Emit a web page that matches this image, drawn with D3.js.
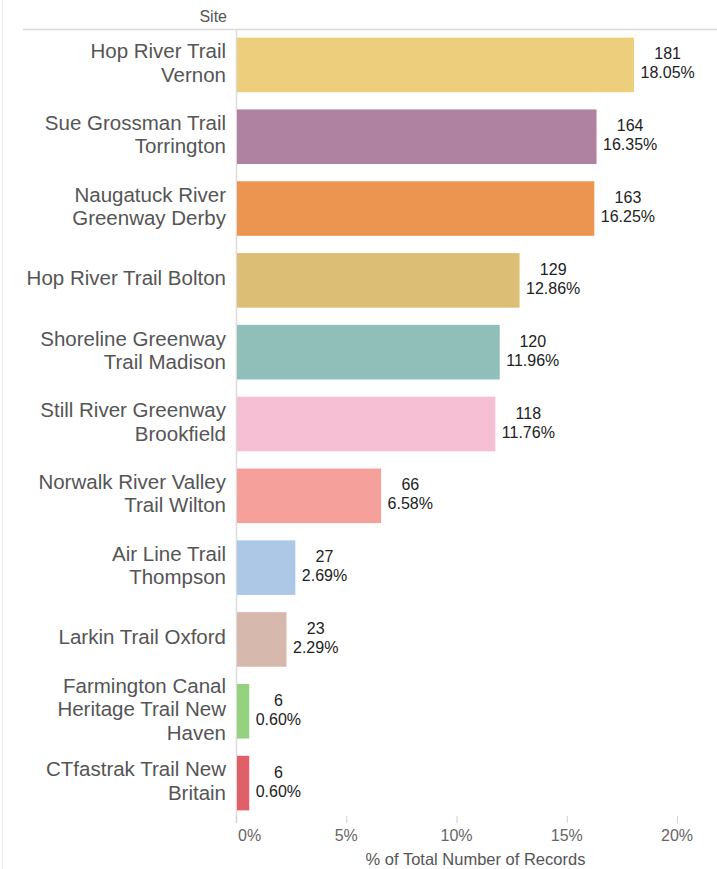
<!DOCTYPE html>
<html><head><meta charset="utf-8">
<script src="https://cdn.jsdelivr.net/npm/d3@7/dist/d3.min.js"></script>
<style>body{margin:0;background:#fff}svg{display:block}text{font-family:"Liberation Sans",Arial,Helvetica,sans-serif}</style>
</head><body>
<script>
const sites = [
  ["Hop River Trail","Vernon"],
  ["Sue Grossman Trail","Torrington"],
  ["Naugatuck River","Greenway Derby"],
  ["Hop River Trail Bolton"],
  ["Shoreline Greenway","Trail Madison"],
  ["Still River Greenway","Brookfield"],
  ["Norwalk River Valley","Trail Wilton"],
  ["Air Line Trail","Thompson"],
  ["Larkin Trail Oxford"],
  ["Farmington Canal","Heritage Trail New","Haven"],
  ["CTfastrak Trail New","Britain"]
];
const counts = [181,164,163,129,120,118,66,27,23,6,6];
const percents = [18.05,16.35,16.25,12.86,11.96,11.76,6.58,2.69,2.29,0.60,0.60];
const colors = ["#ecce7c","#ae82a0","#ec9550","#dcbe74","#8fbfb8","#f6bfd3","#f6a09c","#adc8e6","#d6b8ac","#95d27f","#e06069"];
const xTicks = [0,5,10,15,20];

const W=717,H=869;
const svg=d3.select("body").append("svg").attr("width",W).attr("height",H);
const x=d3.scaleLinear().domain([0,20]).range([236,677]);
const y=d3.scaleBand().domain(d3.range(sites.length)).range([29,819]).paddingInner(0.24).paddingOuter(0.12);

// borders / header
svg.append("line").attr("x1",2.5).attr("x2",2.5).attr("y1",0).attr("y2",H).attr("stroke","#ececec");
svg.append("line").attr("x1",23).attr("x2",W).attr("y1",29.5).attr("y2",29.5).attr("stroke","#d9d9d9").attr("stroke-width",1.5);
svg.append("text").attr("x",227).attr("y",21.5).attr("text-anchor","end").attr("font-size",16).attr("fill","#555").text("Site");
svg.append("line").attr("x1",236.5).attr("x2",236.5).attr("y1",29).attr("y2",823).attr("stroke","#dcdcdc").attr("stroke-width",1.5);

// bars
const g=svg.append("g");
g.selectAll("rect").data(counts).join("rect")
  .attr("x",x(0)+1).attr("y",(d,i)=>y(i)).attr("height",y.bandwidth())
  .attr("width",(d,i)=>x(percents[i])-x(0)-1).attr("fill",(d,i)=>colors[i]);

// category labels
sites.forEach((lines,i)=>{
  const c=y(i)+y.bandwidth()/2, n=lines.length;
  const t=svg.append("text").attr("text-anchor","end").attr("font-size",20.5).attr("fill","#555");
  lines.forEach((l,j)=>t.append("tspan").attr("x",226).attr("y",c+(j-(n-1)/2)*23.3+5).text(l));
});

// value labels
counts.forEach((v,i)=>{
  const c=y(i)+y.bandwidth()/2;
  const t=svg.append("text").attr("text-anchor","middle").attr("font-size",16).attr("fill","#222");
  const a=t.append("tspan").attr("y",c-5.5).text(v);
  const b=t.append("tspan").attr("y",c+13.5).text(percents[i].toFixed(2)+"%");
  const w=Math.max(a.node().getComputedTextLength(),b.node().getComputedTextLength());
  const cx=x(percents[i])+6.5+w/2;
  a.attr("x",cx); b.attr("x",cx);
});

// x axis
const ax=svg.append("g");
ax.selectAll("line").data(xTicks).join("line")
  .attr("x1",d=>x(d)+0.5).attr("x2",d=>x(d)+0.5).attr("y1",816).attr("y2",823).attr("stroke","#d0d0d0");
ax.selectAll("text").data(xTicks).join("text")
  .attr("x",d=>d===0?x(d)+2:x(d)).attr("y",840.5).attr("text-anchor",d=>d===0?"start":"middle")
  .attr("font-size",16).attr("fill","#666").text(d=>d+"%");
svg.append("text").attr("x",475.5).attr("y",865).attr("text-anchor","middle").attr("font-size",16.5).attr("fill","#555").text("% of Total Number of Records");
</script>
</body></html>
